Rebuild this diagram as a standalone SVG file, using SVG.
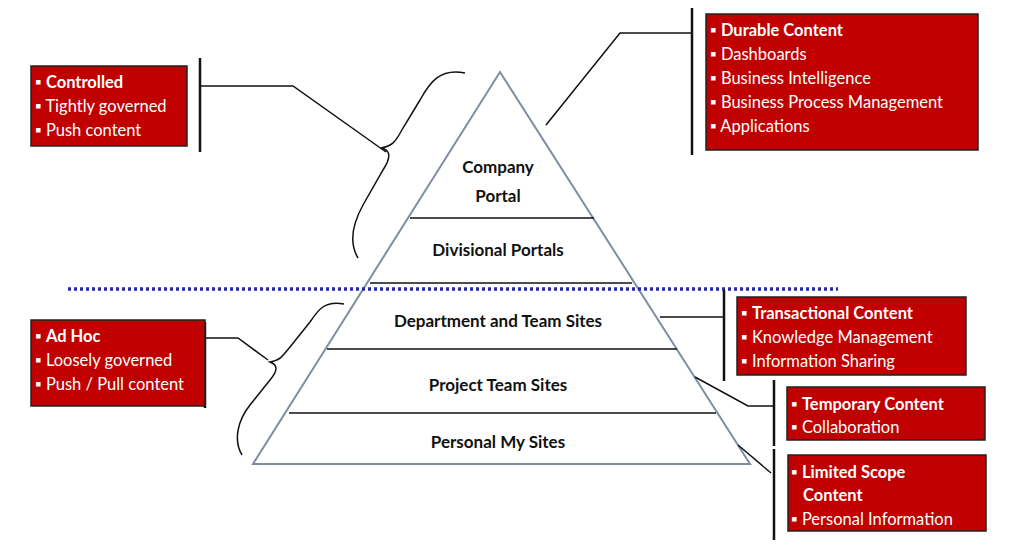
<svg xmlns="http://www.w3.org/2000/svg" width="1024" height="552" viewBox="0 0 1024 552">
<style>
.box{fill:#c00000;stroke:#222;stroke-width:1.5}
.bt{font-family:Lato,"Open Sans",sans-serif;font-size:16.5px;fill:#fff}
.b{font-weight:bold}
.lt{font-family:Lato,"Open Sans",sans-serif;font-size:17px;font-weight:bold;fill:#111;text-anchor:middle}
.ln{stroke:#111;stroke-width:1.5;fill:none}
.bar{stroke:#111;stroke-width:2.5;fill:none}
</style>
<rect width="1024" height="552" fill="#fff"/>
<g id="pyramid">
<polygon points="500,72 253,464 750,464" fill="#fff" stroke="#7f8ea3" stroke-width="2"/>
<line x1="410" y1="218" x2="594" y2="218" class="ln"/>
<line x1="370" y1="283" x2="632" y2="283" class="ln"/>
<line x1="327" y1="349" x2="677" y2="349" class="ln"/>
<line x1="289" y1="413" x2="716" y2="413" class="ln"/>
<text class="lt" x="498" y="173">Company</text>
<text class="lt" x="498" y="202">Portal</text>
<text class="lt" x="498" y="256">Divisional Portals</text>
<text class="lt" x="498" y="327">Department and Team Sites</text>
<text class="lt" x="498" y="391">Project Team Sites</text>
<text class="lt" x="498" y="448">Personal My Sites</text>
</g>
<line id="divider" x1="68" y1="289" x2="838" y2="289" stroke="#2a2aa0" stroke-width="3.5" stroke-dasharray="3,3"/>
<g id="connectors">
<path class="ln" d="M465,73 C440,68 430,82 420,100 L403,128 C395,143 392,146 381,148 C390,150 392,156 383,170 L363,205 C352,225 349,243 358,258"/>
<path class="ln" d="M344,304 C325,300 318,310 310,322 L290,347 C282,357 280,360 270,362 C278,365 278,370 270,380 L250,405 C238,420 233,440 242,455"/>
<path class="bar" d="M200,58 V152"/>
<path class="ln" d="M200,86 H293 L386,152"/>
<path class="bar" d="M205,322 V408"/>
<path class="ln" d="M205,338 H238 L268,360"/>
<path class="bar" d="M692,8 V155"/>
<path class="ln" d="M692,33 H620 L546,125"/>
<path class="bar" d="M724,290 V381"/>
<path class="ln" d="M660,317 H724"/>
<path class="bar" d="M774,380 V446"/>
<path class="ln" d="M695,377 L748,406 H774"/>
<path class="bar" d="M774,449 V540"/>
<path class="ln" d="M738,445 L771,473"/>
</g>
<g id="controlled">
<rect class="box" x="31" y="66" width="156" height="80"/>
<text class="bt" x="35" y="88">▪ <tspan class="b">Controlled</tspan></text>
<text class="bt" x="35" y="112">▪ Tightly governed</text>
<text class="bt" x="35" y="136">▪ Push content</text>
</g>
<g id="durable">
<rect class="box" x="706" y="14" width="272" height="136"/>
<text class="bt" x="710" y="36">▪ <tspan class="b">Durable Content</tspan></text>
<text class="bt" x="710" y="60">▪ Dashboards</text>
<text class="bt" x="710" y="84">▪ Business Intelligence</text>
<text class="bt" x="710" y="108">▪ Business Process Management</text>
<text class="bt" x="710" y="132">▪ Applications</text>
</g>
<g id="adhoc">
<rect class="box" x="31" y="320" width="174" height="86"/>
<text class="bt" x="35" y="342">▪ <tspan class="b">Ad Hoc</tspan></text>
<text class="bt" x="35" y="366">▪ Loosely governed</text>
<text class="bt" x="35" y="390">▪ Push / Pull content</text>
</g>
<g id="transactional">
<rect class="box" x="737" y="297" width="229" height="78"/>
<text class="bt" x="741" y="319">▪ <tspan class="b">Transactional Content</tspan></text>
<text class="bt" x="741" y="343">▪ Knowledge Management</text>
<text class="bt" x="741" y="367">▪ Information Sharing</text>
</g>
<g id="temporary">
<rect class="box" x="787" y="387" width="198" height="53"/>
<text class="bt" x="791" y="410">▪ <tspan class="b">Temporary Content</tspan></text>
<text class="bt" x="791" y="433">▪ Collaboration</text>
</g>
<g id="limited">
<rect class="box" x="788" y="455" width="198" height="76"/>
<text class="bt" x="791" y="478">▪ <tspan class="b">Limited Scope</tspan></text>
<text class="bt b" x="803" y="501">Content</text>
<text class="bt" x="791" y="525">▪ Personal Information</text>
</g>
</svg>
